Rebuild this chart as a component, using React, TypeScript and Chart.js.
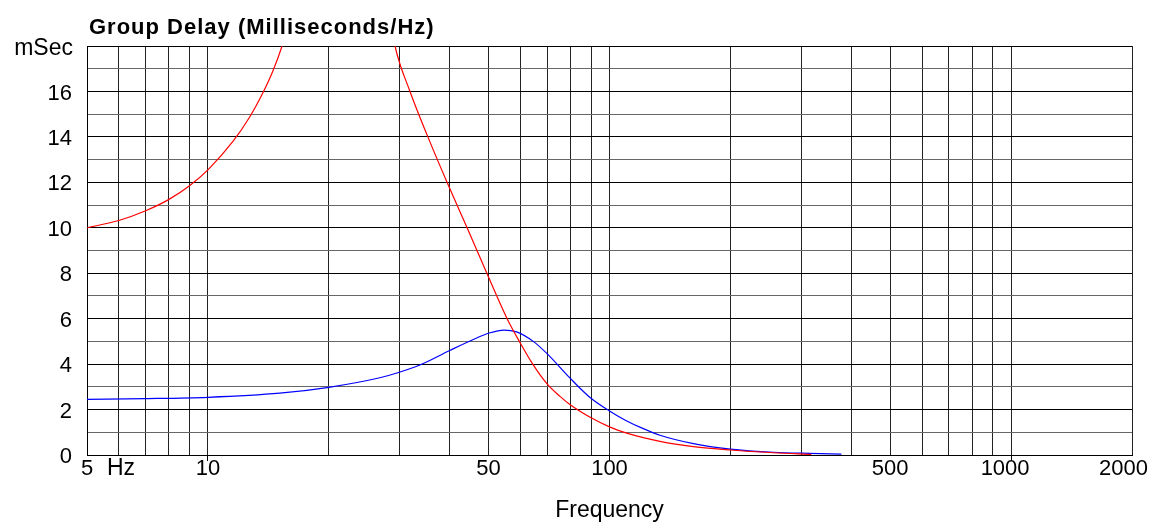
import React, { useEffect, useRef } from "react";
import { Chart, registerables } from "chart.js";

Chart.register(...registerables);

const TITLE = "Group Delay (Milliseconds/Hz)";
const Y_UNIT = "mSec";
const X_TITLE = "Frequency";
const X_UNIT = "Hz";

const X_GRID = [5, 6, 7, 8, 9, 10, 20, 30, 40, 50, 60, 70, 80, 90, 100, 200, 300, 400, 500, 600, 700, 800, 900, 1000, 2000];
const X_LABELS = [5, 10, 50, 100, 500, 1000, 2000];
const X_DECADES = [10, 100, 1000];
const Y_LABELS = [0, 2, 4, 6, 8, 10, 12, 14, 16];

const RED_FREQ = [5, 6, 7, 8, 9, 10, 11.57, 12.73, 13.6, 14.5, 15.3, 15.9, 22, 28.6, 29.24, 31.86, 35.3, 39.4, 44.2, 49.5, 55.6, 60, 64.4, 70, 75.3, 80, 89.5, 100, 110.4, 133.6, 161.8, 200, 255.8, 318];
const RED_DELAY = [10.0, 10.32, 10.75, 11.25, 11.85, 12.55, 13.82, 14.9, 15.82, 16.88, 18.0, 19.0, null, 19.0, 18.0, 16.0, 14.0, 12.0, 10.0, 8.0, 6.0, 4.92, 4.0, 3.12, 2.58, 2.2, 1.66, 1.24, 0.96, 0.6, 0.37, 0.22, 0.1, 0.03];

const BLUE_FREQ = [5, 7, 10, 15.1, 20, 26.8, 29.7, 33.7, 40, 46.7, 50, 54.6, 58.7, 64.6, 70, 80, 89.6, 100, 110.4, 121, 133.6, 161.8, 200, 256, 315, 378];
const BLUE_DELAY = [2.45, 2.48, 2.54, 2.72, 2.98, 3.4, 3.62, 3.96, 4.6, 5.15, 5.36, 5.5, 5.42, 5.0, 4.45, 3.36, 2.52, 1.94, 1.5, 1.17, 0.87, 0.5, 0.26, 0.12, 0.07, 0.04];

const FONT = '"Liberation Sans", Arial, sans-serif';

const textPlugin = {
  id: "customTexts",
  afterDraw(chart: any) {
    const ctx = chart.ctx as CanvasRenderingContext2D;
    const xs = chart.scales.x;
    const ys = chart.scales.y;
    const area = chart.chartArea;
    ctx.save();
    ctx.fillStyle = "#000";

    // title
    ctx.font = `bold 22px ${FONT}`;
    (ctx as any).letterSpacing = "1px";
    ctx.textAlign = "left";
    ctx.textBaseline = "alphabetic";
    ctx.fillText(TITLE, 89, 34);
    (ctx as any).letterSpacing = "0px";

    // y labels
    ctx.font = `22px ${FONT}`;
    ctx.textAlign = "right";
    ctx.textBaseline = "middle";
    Y_LABELS.forEach((v) => {
      ctx.fillText(String(v), 72, ys.getPixelForValue(v) + 2);
    });
    ctx.font = `23px ${FONT}`;
    ctx.fillText(Y_UNIT, 73, ys.getPixelForValue(ys.max) + 3);

    // x labels
    ctx.font = `22px ${FONT}`;
    const ly = area.bottom + 14;
    X_LABELS.forEach((v, i) => {
      const px = xs.getPixelForValue(v);
      if (i === 0) {
        ctx.textAlign = "center";
        ctx.fillText(String(v), px, ly);
        ctx.textAlign = "left";
        ctx.font = `23px ${FONT}`;
        ctx.fillText(X_UNIT, px + 20, ly);
        ctx.font = `22px ${FONT}`;
      } else if (i === X_LABELS.length - 1) {
        ctx.textAlign = "right";
        ctx.fillText(String(v), px + 16, ly);
      } else if (i === X_LABELS.length - 2) {
        ctx.textAlign = "center";
        ctx.fillText(String(v), px - 6, ly);
      } else {
        ctx.textAlign = "center";
        ctx.fillText(String(v), px, ly);
      }
    });

    ctx.font = `23px ${FONT}`;
    ctx.textAlign = "center";
    ctx.fillText(X_TITLE, (area.left + area.right) / 2, area.bottom + 56);
    ctx.restore();
  },
};

export default function App() {
  const canvasRef = useRef<HTMLCanvasElement | null>(null);

  useEffect(() => {
    document.body.style.margin = "0";
    const canvas = canvasRef.current;
    if (!canvas) return;
    const redData = RED_FREQ.map((f, i) => ({ x: f, y: RED_DELAY[i] }));
    const blueData = BLUE_FREQ.map((f, i) => ({ x: f, y: BLUE_DELAY[i] }));

    const chart = new Chart(canvas, {
      type: "line",
      data: {
        datasets: [
          {
            label: "red",
            data: redData as any,
            borderColor: "#ff0000",
            borderWidth: 1.2,
            pointRadius: 0,
            cubicInterpolationMode: "monotone",
            spanGaps: false,
            fill: false,
          },
          {
            label: "blue",
            data: blueData as any,
            borderColor: "#0000ff",
            borderWidth: 1.2,
            pointRadius: 0,
            cubicInterpolationMode: "monotone",
            fill: false,
          },
        ],
      },
      options: {
        animation: false,
        responsive: false,
        maintainAspectRatio: false,
        layout: { padding: { left: 87, right: 28, top: 46, bottom: 64 } },
        plugins: {
          legend: { display: false },
          title: { display: false },
          tooltip: { enabled: false },
        },
        scales: {
          x: {
            type: "logarithmic",
            min: 5,
            max: 2000,
            afterBuildTicks: (scale: any) => {
              scale.ticks = X_GRID.map((v) => ({ value: v }));
            },
            ticks: { display: false, autoSkip: false },
            grid: {
              color: "#222",
              lineWidth: 1,
              drawTicks: true,
              tickLength: 6,
              tickColor: (c: any) =>
                c.tick && X_DECADES.includes(c.tick.value) ? "#000" : "rgba(0,0,0,0)",
            },
            border: { display: true, color: "#000", width: 1 },
          },
          y: {
            type: "linear",
            min: 0,
            max: 18,
            ticks: { display: false, stepSize: 1 },
            grid: {
              color: (c: any) => (c.tick && c.tick.value % 2 === 0 ? "#000" : "#666"),
              lineWidth: 1,
              drawTicks: false,
            },
            border: { display: true, color: "#000", width: 1 },
          },
        },
      },
      plugins: [textPlugin],
    });

    return () => chart.destroy();
  }, []);

  return (
    <div style={{ width: 1160, height: 525, background: "#fff" }}>
      <canvas ref={canvasRef} width={1160} height={525} />
    </div>
  );
}
